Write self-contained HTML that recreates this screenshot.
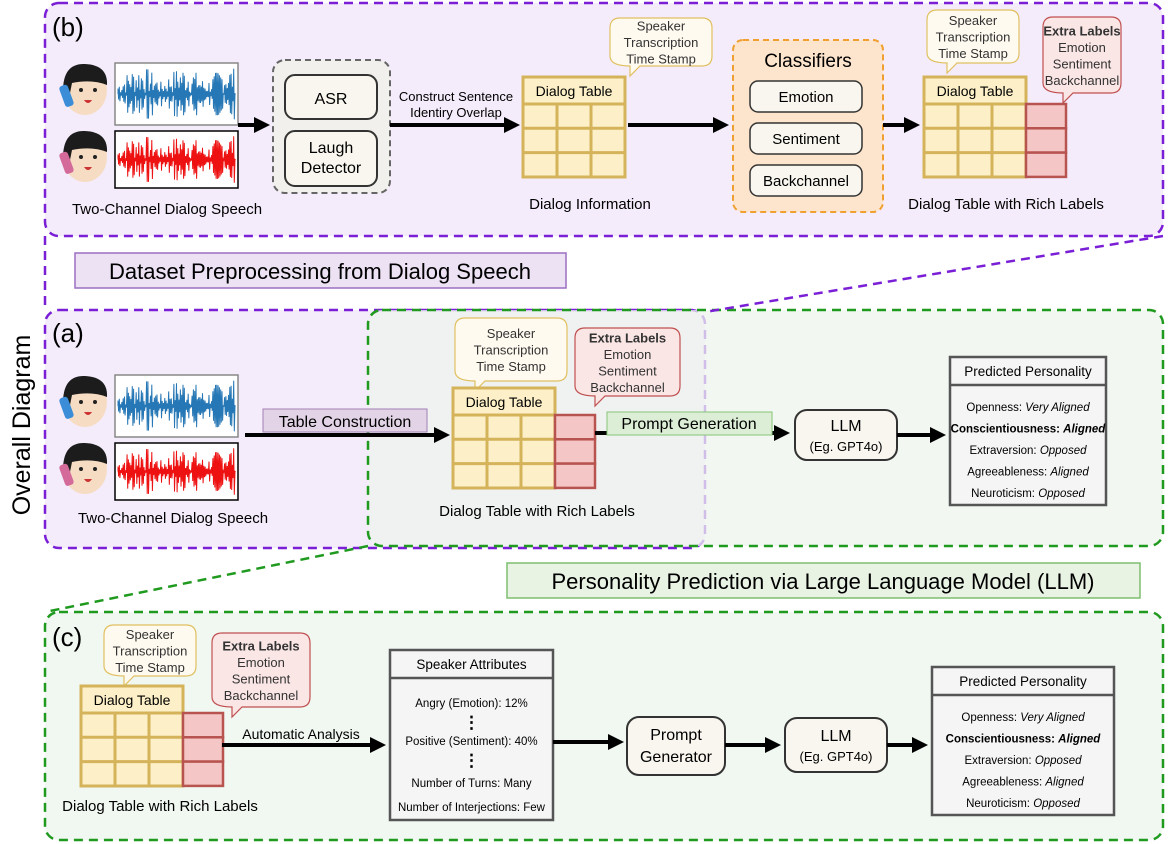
<!DOCTYPE html>
<html><head><meta charset="utf-8"><style>
html,body{margin:0;padding:0;background:#fff;}
svg{display:block;font-family:"Liberation Sans",sans-serif;}
</style></head><body>
<svg id="s" width="1169" height="844" viewBox="0 0 1169 844" xmlns="http://www.w3.org/2000/svg">
<defs>
<marker id="ar" markerWidth="4" markerHeight="4" refX="2.5" refY="2" orient="auto" markerUnits="strokeWidth"><path d="M0,0 L4,2 L0,4 z" fill="#000"/></marker>
</defs>
<rect x="45" y="3" width="1118" height="233" rx="14" fill="#f4ecfb" stroke="#7a1fd6" stroke-width="2.5" stroke-dasharray="9,6"/>
<rect x="45" y="310" width="660" height="238" rx="14" fill="#f4ecfb" stroke="#7a1fd6" stroke-width="2.5" stroke-dasharray="9,6"/>
<rect x="368" y="310" width="795" height="236" rx="14" fill="#eef4ee" fill-opacity="0.75" stroke="#1f9a1f" stroke-width="2.5" stroke-dasharray="9,6"/>
<rect x="45" y="612" width="1118" height="228" rx="14" fill="#f1f7f1" stroke="#1f9a1f" stroke-width="2.5" stroke-dasharray="9,6"/>
<line x1="45" y1="236" x2="45" y2="310" stroke="#7a1fd6" stroke-width="2.5" stroke-dasharray="9,6"/>
<line x1="1163" y1="236" x2="705" y2="312" stroke="#7a1fd6" stroke-width="2.5" stroke-dasharray="9,6"/>
<line x1="368" y1="546" x2="45" y2="612" stroke="#1f9a1f" stroke-width="2.5" stroke-dasharray="9,6"/>
<rect x="75" y="253" width="491" height="35" fill="#ece2f4" stroke="#9b6fc2" stroke-width="1.5"/>
<text x="320" y="279" font-size="22" text-anchor="middle">Dataset Preprocessing from Dialog Speech</text>
<rect x="507" y="563" width="633" height="35" fill="#e8f3e4" stroke="#7fbf6e" stroke-width="1.5"/>
<text x="823" y="589" font-size="22" text-anchor="middle">Personality Prediction via Large Language Model (LLM)</text>
<text transform="translate(30,425) rotate(-90)" font-size="25" text-anchor="middle">Overall Diagram</text>
<text x="52" y="36" font-size="26">(b)</text>
<text x="52" y="342" font-size="26">(a)</text>
<text x="52" y="646" font-size="26">(c)</text>
<g id="dyn"></g>
</svg>
<script>
var o='';
function R(x,y,w,h,f,s,sw,rx,da){o+='<rect x="'+x+'" y="'+y+'" width="'+w+'" height="'+h+'" fill="'+f+'" stroke="'+s+'" stroke-width="'+(sw||2)+'"'+(rx?' rx="'+rx+'"':'')+(da?' stroke-dasharray="'+da+'"':'')+'/>';}
function T(x,y,t,sz,extra){o+='<text x="'+x+'" y="'+y+'" font-size="'+sz+'" text-anchor="middle" '+(extra||'')+'>'+t+'</text>';}
function A(x1,y1,x2,y2){o+='<line x1="'+x1+'" y1="'+y1+'" x2="'+(x2-8)+'" y2="'+y2+'" stroke="#000" stroke-width="4" marker-end="url(#ar)"/>';}
function table(x,y,red){var w=102,h=100;R(x,y,w,h,'#fdf0c8','#d4b35a',3);
 o+='<line x1="'+x+'" y1="'+(y+27)+'" x2="'+(x+w)+'" y2="'+(y+27)+'" stroke="#d4b35a" stroke-width="3"/>';
 for(var i=1;i<3;i++){var yy=y+27+i*24.3;o+='<line x1="'+x+'" y1="'+yy+'" x2="'+(x+w)+'" y2="'+yy+'" stroke="#d4b35a" stroke-width="3"/>';}
 for(var j=1;j<3;j++){var xx=x+j*34;o+='<line x1="'+xx+'" y1="'+(y+27)+'" x2="'+xx+'" y2="'+(y+h)+'" stroke="#d4b35a" stroke-width="3"/>';}
 T(x+51,y+19,'Dialog Table',14);
 if(red){for(var k=0;k<3;k++)R(x+w,y+27+k*24.3,40,24.3,'#f5c6c6','#b85450',2.5);}
}
function cloud(x,y,w,h,col,fill,lines,bold){o+='<path d="M'+(x+10)+','+y+' H'+(x+w-10)+' Q'+(x+w)+','+y+' '+(x+w)+','+(y+10)+' V'+(y+h-14)+' Q'+(x+w)+','+(y+h-4)+' '+(x+w-10)+','+(y+h-4)+' H'+(x+30)+' L'+(x+20)+','+(y+h+6)+' L'+(x+20)+','+(y+h-4)+' Q'+x+','+(y+h-4)+' '+x+','+(y+h-14)+' V'+(y+10)+' Q'+x+','+y+' '+(x+10)+','+y+'z" fill="'+fill+'" stroke="'+col+'" stroke-width="1.2"/>';
 var n=lines.length,lh=16.5,sy=y+(h-4)/2-(n-1)*lh/2+5;
 for(var i=0;i<n;i++)T(x+w/2,sy+i*lh,lines[i],13,'fill="#333"'+(bold&&i==0?' font-weight="bold"':''));}
function speech(x,y){
 face(x,y,'#3a8dd6');face(x,y+67,'#d46a9a');
 wave(x+55,y,123,62,'#2677b5','#888');wave(x+55,y+68,123,57,'#ee1111','#000');}
function face(x,y,c){o+='<ellipse cx="'+(x+25)+'" cy="'+(y+27)+'" rx="22" ry="25" fill="#f7dcc4"/><path d="M'+(x+3)+','+(y+28)+' Q'+(x+3)+','+(y)+' '+(x+25)+','+(y+1)+' Q'+(x+48)+','+(y+2)+' '+(x+47)+','+(y+22)+' Q'+(x+32)+','+(y+16)+' '+(x+12)+','+(y+20)+' L'+(x+8)+','+(y+40)+'z" fill="#1c1c1c"/><rect x="'+(x+2)+'" y="'+(y+22)+'" width="9" height="22" rx="3" fill="'+c+'" transform="rotate(-20 '+(x+6)+' '+(y+33)+')"/><circle cx="'+(x+21)+'" cy="'+(y+27)+'" r="2" fill="#222"/><circle cx="'+(x+35)+'" cy="'+(y+27)+'" r="2" fill="#222"/><path d="M'+(x+24)+','+(y+37)+' q4,6 8,0z" fill="#c33"/>';}
function wave(x,y,w,h,c,b){R(x,y,w,h,'#fff',b,1.5);var p='M'+(x+3)+','+(y+h/2);var seed=7;
 for(var i=0;i<w-6;i+=1.3){seed=(seed*9301+49297)%233280;var r=seed/233280;var env=0.4+0.6*Math.abs(Math.sin(i/14));var a=(h/2-3)*env*r;p+=' L'+(x+3+i).toFixed(1)+','+(y+h/2-a).toFixed(1)+' L'+(x+3+i+0.6).toFixed(1)+','+(y+h/2+a).toFixed(1);}
 o+='<path d="'+p+'" stroke="'+c+'" stroke-width="1" fill="none"/>';}
function ptable(x,y,w,h,hd,rows){R(x,y,w,h,'#f5f5f5','#555',2.5);o+='<line x1="'+x+'" y1="'+(y+28)+'" x2="'+(x+w)+'" y2="'+(y+28)+'" stroke="#555" stroke-width="2.5"/>';
 T(x+w/2,y+19,hd,13.5);for(var i=0;i<rows.length;i++)o+='<text x="'+(x+w/2)+'" y="'+(y+54+i*21.5)+'" font-size="11.5" text-anchor="middle">'+rows[i]+'</text>';}
var PR=['Openness: <tspan font-style="italic">Very Aligned</tspan>','<tspan font-weight="bold">Conscientiousness: <tspan font-style="italic">Aligned</tspan></tspan>','Extraversion: <tspan font-style="italic">Opposed</tspan>','Agreeableness: <tspan font-style="italic">Aligned</tspan>','Neuroticism: <tspan font-style="italic">Opposed</tspan>'];
var YL=['Speaker','Transcription','Time Stamp'],RL=['Extra Labels','Emotion','Sentiment','Backchannel'];
speech(60,63);T(167,214,'Two-Channel Dialog Speech',15);
A(238,125,272,125);
R(273,60,117,133,'#f2f0ec','#666',2,12,'6,4');
R(285,75,92,44,'#f8f6ee','#333',2,10);T(331,104,'ASR',16);
R(285,131,92,55,'#f8f6ee','#333',2,10);T(331,153,'Laugh',16);T(331,173,'Detector',16);
A(390,125,522,125);T(456,101,'Construct Sentence',13);T(456,117,'Identiry Overlap',13);
cloud(610,18,102,52,'#e0c060','#fffaf0',YL);table(523,77,false);T(590,209,'Dialog Information',15);
A(628,125,731,125);
R(733,40,150,172,'#fde4cc','#f0a030',2,10,'6,4');T(808,67,'Classifiers',19);
R(750,81,112,31,'#f8f6ee','#333',1.5,8);T(806,102,'Emotion',15);
R(750,123,112,31,'#f8f6ee','#333',1.5,8);T(806,144,'Sentiment',15);
R(750,165,112,31,'#f8f6ee','#333',1.5,8);T(806,186,'Backchannel',15);
A(883,125,922,125);
cloud(927,10,92,57,'#e0c060','#fffaf0',YL);cloud(1043,17,78,80,'#c05050','#fbe6e6',RL,true);
table(924,77,true);T(1006,209,'Dialog Table with Rich Labels',15);
speech(60,375);T(173,523,'Two-Channel Dialog Speech',15);
A(245,435,452,435);R(263,409,164,23,'#e2d4e6','#a27fb5',1);T(345,427,'Table Construction',16);
cloud(455,318,112,67,'#e0c060','#fffaf0',YL);cloud(575,328,105,72,'#c05050','#fbe6e6',RL,true);
table(453,388,true);T(537,516,'Dialog Table with Rich Labels',15);
A(595,433,792,433);R(607,412,165,23,'#dcefd6','#86c478',1);T(689,429,'Prompt Generation',16);
R(795,410,102,50,'#f8f6ee','#333',2,12);T(846,431,'LLM',16);T(846,451,'(Eg. GPT4o)',13);
A(897,435,948,435);
ptable(950,357,156,148,'Predicted Personality',PR);
cloud(104,625,92,55,'#e0c060','#fffaf0',YL);cloud(212,633,98,78,'#c05050','#fbe6e6',RL,true);
table(81,686,true);T(160,811,'Dialog Table with Rich Labels',15);
A(222,745,388,745);T(301,739,'Automatic Analysis',14);
ptable(390,650,163,170,'Speaker Attributes',[]);
var SA=['Angry (Emotion): 12%','⋮','Positive (Sentiment): 40%','⋮','Number of Turns: Many','Number of Interjections: Few'],SY=[707,728,745,766,787,811];
for(var i=0;i<6;i++)T(471.5,SY[i],SA[i],i%2&&i<4?17:11.5,i%2&&i<4?'font-weight="bold"':'');
A(553,742,626,742);R(627,717,98,58,'#f8f6ee','#333',2,12);T(676,740,'Prompt',16);T(676,762,'Generator',16);
A(725,745,783,745);R(785,718,102,54,'#f8f6ee','#333',2,12);T(836,741,'LLM',16);T(836,761,'(Eg. GPT4o)',13);
A(887,745,930,745);
ptable(932,667,182,148,'Predicted Personality',PR);
document.getElementById('dyn').innerHTML=o;
</script>
</body></html>
